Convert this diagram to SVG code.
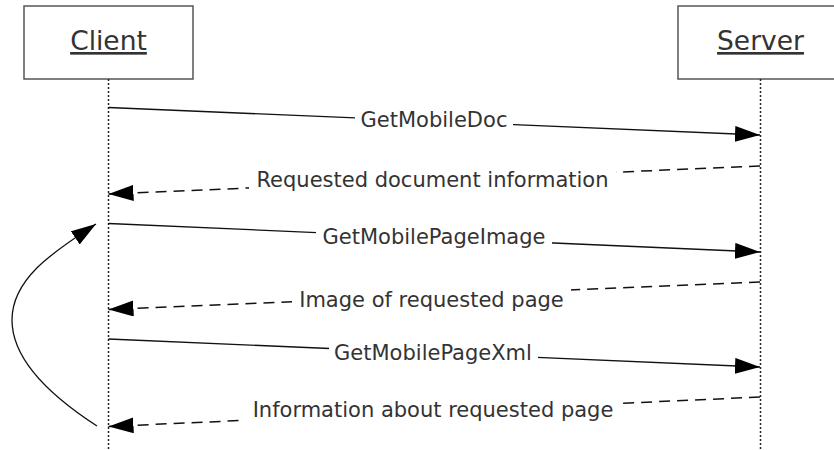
<svg xmlns="http://www.w3.org/2000/svg" width="834" height="450" viewBox="0 0 834 450">
<defs>
<style>
.box{fill:#fff;stroke:#555;stroke-width:1.5}
.actor{font-family:"DejaVu Sans",Verdana,sans-serif;font-size:26.5px;fill:#333;text-anchor:middle;text-decoration:underline}
.life{stroke:#222;stroke-width:1.5;stroke-dasharray:2 2;fill:none}
.msg{stroke:#111;stroke-width:1.3;fill:none;marker-end:url(#ah)}
.ret{stroke:#111;stroke-width:1.5;stroke-dasharray:11 7;fill:none;marker-end:url(#ah)}
.lbl{font-family:"DejaVu Sans",Verdana,sans-serif;font-size:21px;fill:#333;text-anchor:middle}
.bg{fill:#fff}
</style>
<marker id="ah" markerUnits="userSpaceOnUse" markerWidth="25" markerHeight="16" refX="25" refY="8" orient="auto" viewBox="0 0 25 16">
<path d="M0,0 L25,8 L0,16 z" fill="#000"/>
</marker>
</defs>
<rect width="834" height="450" fill="#fff"/>
<g id="client">
<rect class="box" x="24" y="6" width="169" height="73"/>
<text class="actor" x="108.5" y="50">Client</text>
<line class="life" x1="108.5" y1="79" x2="108.5" y2="450"/>
</g>
<g id="server">
<rect class="box" x="678" y="6" width="170" height="73"/>
<text class="actor" x="760.5" y="50">Server</text>
<line class="life" x1="760.5" y1="79" x2="760.5" y2="450"/>
</g>
<g id="connectors">
<line class="msg" x1="108.5" y1="107.5" x2="760" y2="135"/>
<line class="ret" x1="760" y1="166" x2="108.5" y2="194"/>
<line class="msg" x1="108.5" y1="223.5" x2="760" y2="252"/>
<line class="ret" x1="760" y1="282" x2="108.5" y2="309.5"/>
<line class="msg" x1="108.5" y1="339" x2="760" y2="367"/>
<line class="ret" x1="760" y1="397" x2="108.5" y2="426.5"/>
<path d="M97,426 Q12,371 12,320 C12,276 60,248 96,224" fill="none" stroke="#111" stroke-width="1.3" marker-end="url(#ah)"/>
</g>
<g id="label-1">
<rect class="bg" x="355" y="109" width="158" height="24"/>
<text class="lbl" x="434" y="127">GetMobileDoc</text>
</g>
<g id="label-2">
<rect class="bg" x="249" y="169" width="367" height="24"/>
<text class="lbl" x="432.5" y="187">Requested document information</text>
</g>
<g id="label-3">
<rect class="bg" x="316" y="226" width="236" height="24"/>
<text class="lbl" x="434" y="244">GetMobilePageImage</text>
</g>
<g id="label-4">
<rect class="bg" x="292" y="288" width="279" height="24"/>
<text class="lbl" x="431.5" y="306.5">Image of requested page</text>
</g>
<g id="label-5">
<rect class="bg" x="329" y="342" width="209" height="24"/>
<text class="lbl" x="433" y="360">GetMobilePageXml</text>
</g>
<g id="label-6">
<rect class="bg" x="244" y="398" width="379" height="24"/>
<text class="lbl" x="433" y="416.5">Information about requested page</text>
</g>
</svg>
